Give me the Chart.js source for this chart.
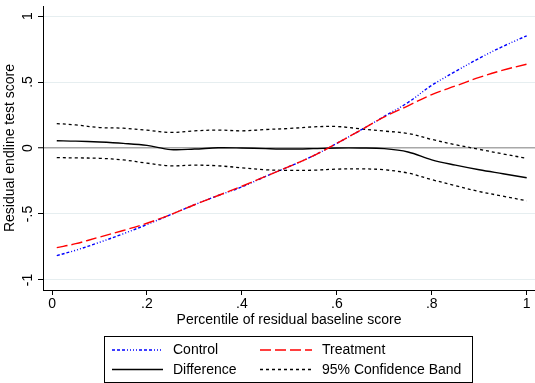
<!DOCTYPE html>
<html>
<head>
<meta charset="utf-8">
<script src="https://cdn.jsdelivr.net/npm/chart.js@4"></script>
<style>
html,body{margin:0;padding:0;background:#fff;}
#wrap{width:535px;height:383px;position:relative;}
</style>
</head>
<body>
<div id="wrap"><canvas id="c" width="535" height="383"></canvas></div>
<script>
// Percentile of residual baseline score (x positions)
const percentiles = [0.01,0.05,0.10,0.15,0.20,0.25,0.30,0.35,0.40,0.45,0.50,0.55,0.60,0.65,0.70,0.75,0.80,0.85,0.90,0.95,1.00];
const controlValues   = [-0.815,-0.775,-0.715,-0.650,-0.580,-0.505,-0.430,-0.360,-0.295,-0.215,-0.140,-0.060,0.035,0.135,0.240,0.345,0.475,0.580,0.680,0.770,0.850];
const treatmentValues = [-0.755,-0.725,-0.675,-0.625,-0.570,-0.505,-0.430,-0.360,-0.290,-0.215,-0.140,-0.060,0.035,0.135,0.235,0.320,0.405,0.470,0.535,0.590,0.635];
const differenceValues= [0.055,0.052,0.045,0.035,0.020,-0.012,-0.008,0.002,0.000,-0.005,-0.008,-0.005,0.000,0.000,-0.005,-0.030,-0.090,-0.130,-0.165,-0.195,-0.225];
const upperBandValues = [0.185,0.175,0.155,0.150,0.135,0.118,0.130,0.136,0.130,0.140,0.148,0.160,0.163,0.145,0.128,0.110,0.065,0.025,-0.010,-0.045,-0.078];
const lowerBandValues = [-0.073,-0.075,-0.078,-0.090,-0.115,-0.135,-0.130,-0.135,-0.150,-0.165,-0.170,-0.168,-0.160,-0.158,-0.165,-0.190,-0.240,-0.285,-0.330,-0.365,-0.400];
const yTickValues = [-1,-0.5,0,0.5,1];
const xTickValues = [0,0.2,0.4,0.6,0.8,1];
const legendLabels = ['Control','Treatment','Difference','95% Confidence Band'];

const FONT = "'Liberation Sans', Arial, Helvetica, sans-serif";
const pts = (vals) => percentiles.map((x,i)=>({x:x,y:vals[i]}));
const fmt = (v) => {
  if (v === 0) return '0';
  let s = String(Math.round(v*100)/100);
  return s.replace(/^0\./,'.').replace(/^-0\./,'-.');
};

const styles = [
  {color:'#0000ff', dash:[3,2,3,2,3,2,1,2,1,2,1,2,1,2], width:1.4},
  {color:'#ff0000', dash:[11,4], width:1.4},
  {color:'#000000', dash:[], width:1.4},
  {color:'#000000', dash:[3,3], width:1.3}
];

const legendPlugin = {
  id:'boxLegend',
  afterDraw(chart){
    const ctx = chart.ctx;
    ctx.save();
    ctx.strokeStyle = '#000';
    ctx.lineWidth = 1;
    ctx.setLineDash([]);
    ctx.strokeRect(104.5, 336.5, 368, 46);
    const pos = [
      {sx:112, ex:163, tx:173, y:350},
      {sx:260, ex:312, tx:322, y:350},
      {sx:112, ex:163, tx:173, y:369.5},
      {sx:260, ex:312, tx:322, y:369.5}
    ];
    ctx.font = '14px ' + FONT;
    ctx.textBaseline = 'middle';
    ctx.textAlign = 'left';
    legendLabels.forEach((lab,i)=>{
      const p = pos[i], s = styles[i];
      ctx.beginPath();
      ctx.strokeStyle = s.color;
      ctx.lineWidth = s.width;
      ctx.setLineDash(s.dash);
      ctx.moveTo(p.sx, p.y);
      ctx.lineTo(p.ex, p.y);
      ctx.stroke();
      ctx.setLineDash([]);
      ctx.fillStyle = '#000';
      ctx.fillText(lab, p.tx, p.y + 0.5);
    });
    ctx.restore();
  }
};

const mk = (label, vals, s, order) => ({
  label, data: pts(vals), borderColor: s.color, borderWidth: s.width,
  borderDash: s.dash, pointRadius: 0, fill: false, tension: 0.35, order
});

new Chart(document.getElementById('c'), {
  type: 'line',
  data: {
    datasets: [
      mk(legendLabels[1], treatmentValues, styles[1], 0),
      mk(legendLabels[0], controlValues, styles[0], 1),
      mk(legendLabels[2], differenceValues, styles[2], 2),
      mk(legendLabels[3], upperBandValues, styles[3], 3),
      mk(legendLabels[3] + ' (lower)', lowerBandValues, styles[3], 3)
    ]
  },
  options: {
    responsive: false,
    animation: false,
    devicePixelRatio: 1,
    layout: {padding: {left: 0, top: 6, right: 0, bottom: 46}},
    plugins: {legend: {display: false}, tooltip: {enabled: false}},
    scales: {
      x: {
        type: 'linear', min: -0.019, max: 1.0175,
        afterBuildTicks: (sc) => { sc.ticks = xTickValues.map(v=>({value:v})); },
        afterFit: (sc) => { sc.height = 47; sc.paddingLeft = 0; sc.paddingRight = 0; sc.paddingTop = 0; sc.paddingBottom = 0; },
        grid: {drawOnChartArea: false, drawTicks: true, tickLength: 5, tickColor: '#000', tickWidth: 1},
        border: {display: true, color: '#000', width: 1},
        ticks: {callback: (v)=>fmt(v), color: '#000', font: {family: FONT, size: 14}, padding: 1, maxRotation: 0, autoSkip: false},
        title: {display: true, text: 'Percentile of residual baseline score', color: '#000', font: {family: FONT, size: 14}, padding: {top: 0, bottom: 8.6}}
      },
      y: {
        type: 'linear', min: -1.076, max: 1.076,
        afterBuildTicks: (sc) => { sc.ticks = yTickValues.map(v=>({value:v})); },
        afterFit: (sc) => { sc.width = 43; sc.paddingTop = 0; sc.paddingBottom = 0; sc.paddingLeft = 0; sc.paddingRight = 0; },
        grid: {
          drawOnChartArea: true, drawTicks: true, tickLength: 5, tickColor: '#000', tickWidth: 1,
          color: (c) => (c.tick && c.tick.value === 0) ? '#a8a8a8' : '#e6eef0',
          lineWidth: (c) => (c.tick && c.tick.value === 0) ? 1.5 : 1
        },
        border: {display: true, color: '#000', width: 1},
        ticks: {callback: (v)=>fmt(v), color: '#000', font: {family: FONT, size: 14}, padding: 2, minRotation: 90, maxRotation: 90, crossAlign: 'center', autoSkip: false},
        title: {display: true, text: 'Residual endline test score', color: '#000', font: {family: FONT, size: 14}, padding: {top: 1.6, bottom: 0}}
      }
    }
  },
  plugins: [legendPlugin]
});
</script>
</body>
</html>
